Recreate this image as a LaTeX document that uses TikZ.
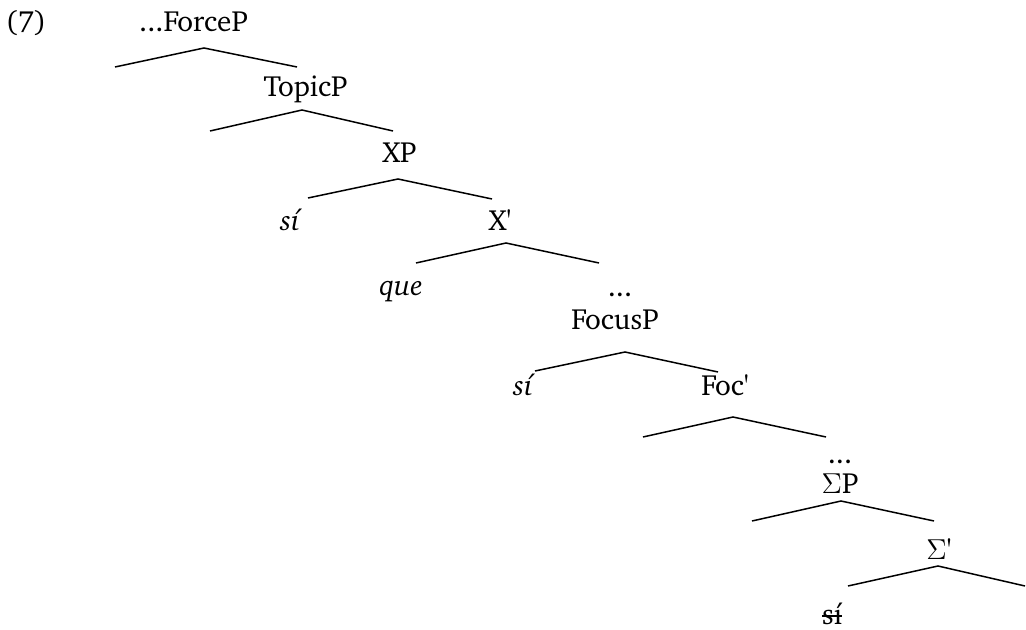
\documentclass[tikz,border=0pt]{standalone}
\usepackage[T1]{fontenc}
\usepackage{charter}
\usepackage{textcomp}
\newcommand\strk[1]{\setbox0\hbox{#1}\rlap{\rule[0.24em]{\wd0}{0.07em}}\box0}
\newcommand\pr{\textquotesingle}
\begin{document}
\begin{tikzpicture}[x=0.5pt,y=-0.5pt,
  lab/.style={anchor=base,inner sep=0pt,font=\fontsize{14.6}{17}\selectfont},
  br/.style={line width=0.75pt}]
\useasboundingbox (0,0) rectangle (1026,630);
% labels
\node[lab] (n7) at (26,32) {(7)};
\node[lab] (force) at (193.5,32) {...ForceP};
\node[lab] (topic) at (305.5,97) {TopicP};
\node[lab] (xp) at (399.5,163) {XP};
\node[lab] (si1) at (290,231) {\itshape sí};
\node[lab] (xbar) at (500,231) {X\pr};
\node[lab] (que) at (401,295) {\itshape que};
\node[lab] (dots1) at (620,297) {...};
\node[lab] (focus) at (615,329) {FocusP};
\node[lab] (si2) at (523,395) {\itshape sí};
\node[lab] (foc) at (725,395) {Foc\pr};
\node[lab] (dots2) at (840,463) {...};
\node[lab] (sigp) at (840,493) {$\Sigma$P};
\node[lab] (sigbar) at (939,559) {$\Sigma$\pr};
\node[lab] (si3) at (832,624) {\strk{sí}};
% branch points
\coordinate (a1) at (204,48);  \coordinate (l1) at (115,67);  \coordinate (r1) at (297,67);
\coordinate (a2) at (302,110); \coordinate (l2) at (210,131); \coordinate (r2) at (393,131);
\coordinate (a3) at (398,179); \coordinate (l3) at (308,198); \coordinate (r3) at (492,199);
\coordinate (a4) at (506,243); \coordinate (l4) at (416,263); \coordinate (r4) at (599,263);
\coordinate (a5) at (625,352); \coordinate (l5) at (535,371); \coordinate (r5) at (718,372);
\coordinate (a6) at (733,417); \coordinate (l6) at (643,437); \coordinate (r6) at (826,437);
\coordinate (a7) at (841,501); \coordinate (l7) at (752,521); \coordinate (r7) at (934,521);
\coordinate (a8) at (938,566); \coordinate (l8) at (848,586); \coordinate (r8) at (1025,586);
\foreach \i in {1,...,8}{\draw[br] (l\i) -- (a\i) -- (r\i);}
\end{tikzpicture}
\end{document}
